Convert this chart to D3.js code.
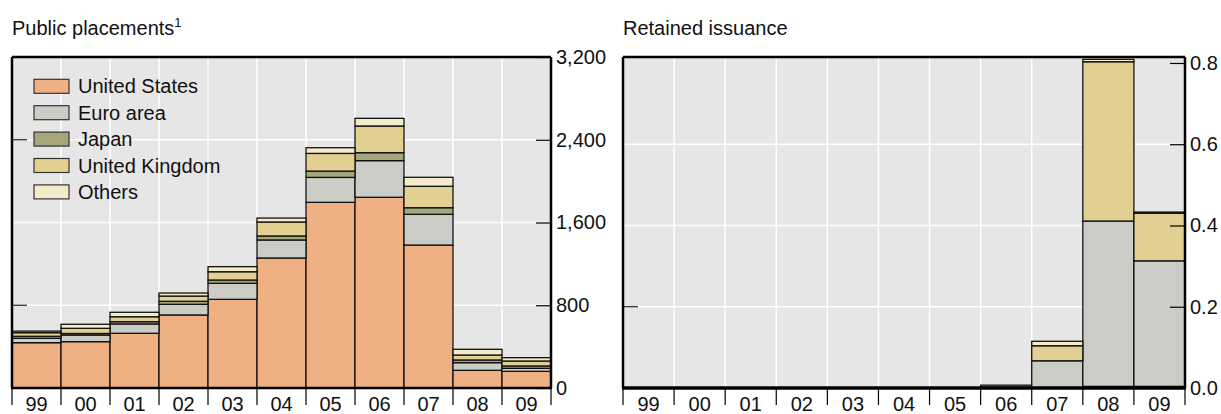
<!DOCTYPE html>
<html><head><meta charset="utf-8">
<script src="https://cdn.jsdelivr.net/npm/d3@7"></script>
<style>
body{margin:0;background:#fff;}
svg{display:block;font-family:"Liberation Sans",Arial,sans-serif;}
</style></head>
<body><svg id="c" width="1221" height="414"></svg>
<script>
const years = ["99","00","01","02","03","04","05","06","07","08","09"];
const seriesNames = ["United States","Euro area","Japan","United Kingdom","Others"];
const seriesColors = ["#EFB084","#CBCCC6","#A5A67A","#E2CF92","#F4EBCA"];
const leftTicks = [0,800,1600,2400,3200];
const rightTicks = [0,0.2,0.4,0.6,0.8];

// Public placements (left panel)
const pubUS     = [438,448,529,706,857,1257,1795,1844,1382,171,161];
const pubEuro   = [42,64,90,103,155,174,241,354,297,74,29];
const pubJapan  = [20,15,22,29,32,39,61,77,64,26,23];
const pubUK     = [35,50,48,51,80,135,171,258,207,48,48];
const pubOthers = [15,39,43,29,49,38,55,74,87,55,32];

// Retained issuance (right panel)
const retUS     = [0,0,0,0,0,0,0,0.002,0.001,0.004,0.004];
const retEuro   = [0,0,0,0,0,0,0,0.005,0.066,0.407,0.309];
const retJapan  = [0,0,0,0,0,0,0,0,0,0,0];
const retUK     = [0,0,0,0,0,0,0,0,0.037,0.392,0.117];
const retOthers = [0,0,0,0,0,0,0,0,0.011,0.006,0.003];

const svg = d3.select("#c");
const FONT = 20;

function rows(a){ return years.map((y,i)=>({year:y, "United States":a[0][i], "Euro area":a[1][i], "Japan":a[2][i], "United Kingdom":a[3][i], "Others":a[4][i]})); }

function panel(cfg){
  const g = svg.append("g");
  const x = d3.scaleBand().domain(years).range([cfg.x0,cfg.x1]).padding(0);
  const y = d3.scaleLinear().domain(cfg.domain).range([388,57]);
  g.append("rect").attr("x",cfg.x0).attr("y",57).attr("width",cfg.x1-cfg.x0).attr("height",331).attr("fill","#E6E6E6");
  g.selectAll(".hg").data(cfg.grid).join("line")
    .attr("x1",cfg.x0).attr("x2",cfg.x1).attr("y1",d=>y(d)).attr("y2",d=>y(d))
    .attr("stroke","#fff").attr("stroke-width",1.5);
  g.selectAll(".vg").data(years.slice(1)).join("line")
    .attr("x1",d=>x(d)).attr("x2",d=>x(d)).attr("y1",57).attr("y2",388)
    .attr("stroke","#fff").attr("stroke-width",1.5);
  const stack = d3.stack().keys(seriesNames)(rows(cfg.data));
  stack.forEach((s,si)=>{
    g.append("g").selectAll("rect").data(s.filter(d=>d[1]-d[0]>0)).join("rect")
      .attr("x",d=>x(d.data.year)).attr("width",x.bandwidth())
      .attr("y",d=>y(d[1])).attr("height",d=>y(d[0])-y(d[1]))
      .attr("fill",seriesColors[si]).attr("stroke","#111").attr("stroke-width",1.3);
  });
  g.selectAll(".lt").data(cfg.leftMarks).join("line")
    .attr("x1",cfg.x0).attr("x2",cfg.x0+15).attr("y1",d=>y(d)).attr("y2",d=>y(d))
    .attr("stroke","#222").attr("stroke-width",1.2);
  g.append("line").attr("x1",cfg.x0).attr("x2",cfg.x1).attr("y1",57).attr("y2",57).attr("stroke","#000").attr("stroke-width",2.5);
  g.append("line").attr("x1",cfg.x0).attr("x2",cfg.x0).attr("y1",57).attr("y2",388).attr("stroke","#000").attr("stroke-width",2.5);
  const ya = d3.axisRight(y).tickValues(cfg.ticks).tickSize(-15).tickPadding(5).tickFormat(cfg.fmt);
  const ag = g.append("g").attr("transform",`translate(${cfg.x1},0)`).call(ya);
  ag.select(".domain").attr("stroke","#000").attr("stroke-width",2.5).attr("d",`M0,57V388`);
  ag.selectAll(".tick line").attr("stroke","#000").attr("stroke-width",1.2);
  ag.selectAll(".tick text").attr("font-size",FONT).attr("font-family","Liberation Sans, Arial, sans-serif").attr("fill","#111");
  const xa = d3.axisBottom(x).tickSize(0).tickPadding(9);
  const bg = g.append("g").attr("transform","translate(0,388)").call(xa);
  bg.select(".domain").remove();
  bg.selectAll(".tick text").attr("font-size",FONT).attr("font-family","Liberation Sans, Arial, sans-serif").attr("fill","#111");
  g.selectAll(".bt").data(years).join("line")
    .attr("x1",d=>x(d)).attr("x2",d=>x(d)).attr("y1",388).attr("y2",405)
    .attr("stroke","#000").attr("stroke-width",1.2);
  g.append("line").attr("x1",cfg.x1).attr("x2",cfg.x1).attr("y1",388).attr("y2",405).attr("stroke","#000").attr("stroke-width",1.2);
  g.append("line").attr("x1",cfg.x0-1).attr("x2",cfg.x1+1).attr("y1",388).attr("y2",388).attr("stroke","#000").attr("stroke-width",cfg.baseW);
  const t = svg.append("text").attr("x",cfg.x0).attr("y",35).attr("font-size",FONT).attr("fill","#111").text(cfg.title);
  if(cfg.sup) t.append("tspan").attr("font-size",13).attr("dy",-8).text(cfg.sup);
  return {x,y};
}

panel({x0:12,x1:551,domain:[0,3200],ticks:leftTicks,grid:[800,1600,2400],fmt:d3.format(","),
  data:[pubUS,pubEuro,pubJapan,pubUK,pubOthers],leftMarks:[800,2400],title:"Public placements",sup:"1",baseW:2.5});
panel({x0:623,x1:1185,domain:[0,0.8147],ticks:rightTicks,grid:[0.2,0.4,0.6],fmt:d3.format(".1f"),
  data:[retUS,retEuro,retJapan,retUK,retOthers],leftMarks:[0.2],title:"Retained issuance",baseW:3.5});

const lg = svg.append("g");
seriesNames.forEach((n,i)=>{
  const cy = 86.3 + i*26.4;
  lg.append("rect").attr("x",34).attr("y",cy-7).attr("width",35).attr("height",14)
    .attr("fill",seriesColors[i]).attr("stroke","#333").attr("stroke-width",1.2);
  lg.append("text").attr("x",78).attr("y",cy+7).attr("font-size",FONT).attr("fill","#111").text(n);
});
</script></body></html>
